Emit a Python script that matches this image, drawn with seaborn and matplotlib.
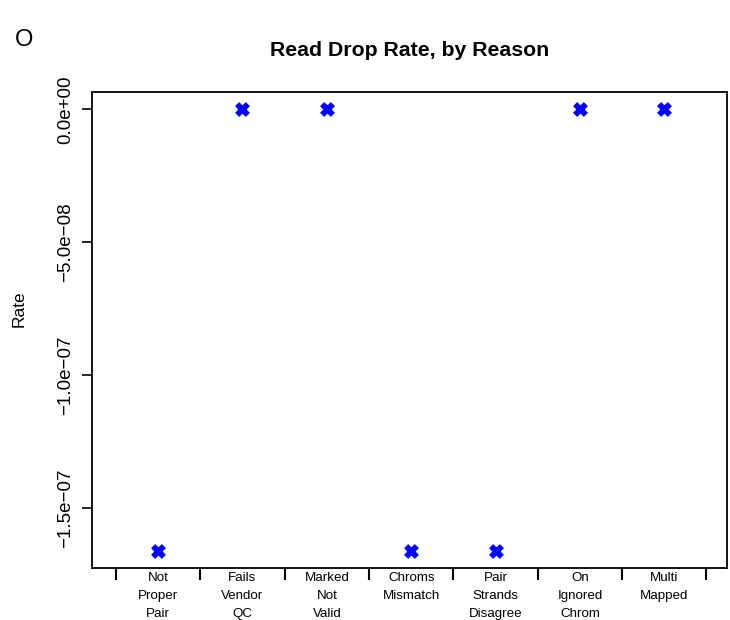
import matplotlib
matplotlib.use("Agg")
import matplotlib.pyplot as plt
from matplotlib.markers import MarkerStyle
from matplotlib.ticker import FixedLocator
import numpy as np
import seaborn as sns

# Drop reasons and their read drop rates
reasons = [
    "Not\nProper\nPair",
    "Fails\nVendor\nQC",
    "Marked\nNot\nValid",
    "Chroms\nMismatch",
    "Pair\nStrands\nDisagree",
    "On\nIgnored\nChrom",
    "Multi\nMapped",
]
rates = [-1.66e-7, 0.0, 0.0, -1.66e-7, -1.66e-7, 0.0, 0.0]
y_ticks = [0.0, -5e-8, -1e-7, -1.5e-7]
y_tick_labels = ["0.0e+00", "\u22125.0e\u221208", "\u22121.0e\u221207", "\u22121.5e\u221207"]

sns.set_theme(style="white")
plt.rcParams["font.family"] = ["Liberation Sans", "DejaVu Sans"]
plt.rcParams.update({
    "text.color": "black",
    "axes.labelcolor": "black",
    "xtick.color": "black",
    "ytick.color": "black",
})

fig = plt.figure(figsize=(7.3, 6.2), dpi=100)
ax = fig.add_axes([0.1264, 0.0834, 0.8691, 0.7687])

pos = np.arange(len(reasons))
sns.scatterplot(
    x=pos, y=rates, ax=ax,
    marker=MarkerStyle("x", capstyle="round"),
    s=60, linewidth=4.2, color="blue", legend=False, zorder=3,
)

# axis limits with base-graphics style padding
ax.set_xlim(-0.5 - 0.28, len(reasons) - 0.5 + 0.24)
ymin, ymax = min(rates), max(rates)
pad = 0.04 * (ymax - ymin)
ax.set_ylim(ymin - pad, ymax + pad)

# x axis: boundary ticks, labels centred on each category
ax.xaxis.set_major_locator(FixedLocator(pos))
ax.set_xticklabels(reasons, linespacing=1.63)
ax.xaxis.set_minor_locator(FixedLocator(np.arange(len(reasons) + 1) - 0.5))
ax.tick_params(axis="x", which="major", length=0, pad=3, labelsize=9.6,
               labelcolor="black")
ax.tick_params(axis="x", which="minor", length=8.5, width=1.5, color="black",
               direction="out", bottom=True)

# y axis
ax.yaxis.set_major_locator(FixedLocator(y_ticks))
ax.set_yticklabels(y_tick_labels, rotation=90, va="center")
ax.tick_params(axis="y", which="major", length=7.5, width=1.2, color="black",
               direction="out", left=True, pad=5.5, labelsize=13.5,
               labelcolor="black")

for sp in ax.spines.values():
    sp.set_visible(True)
    sp.set_color("black")
    sp.set_linewidth(1.3)

ax.set_ylabel("Rate", fontsize=12.5, color="black")
ax.yaxis.set_label_coords(-0.103, 0.545)
ax.set_xlabel("")

ax.set_title("Read Drop Rate, by Reason", fontsize=15.3, fontweight="bold",
             pad=25.5, color="black")
fig.text(0.021, 0.935, "O", fontsize=17, ha="left", va="center", color="black")

fig.savefig("out.png", dpi=100, facecolor="white")
